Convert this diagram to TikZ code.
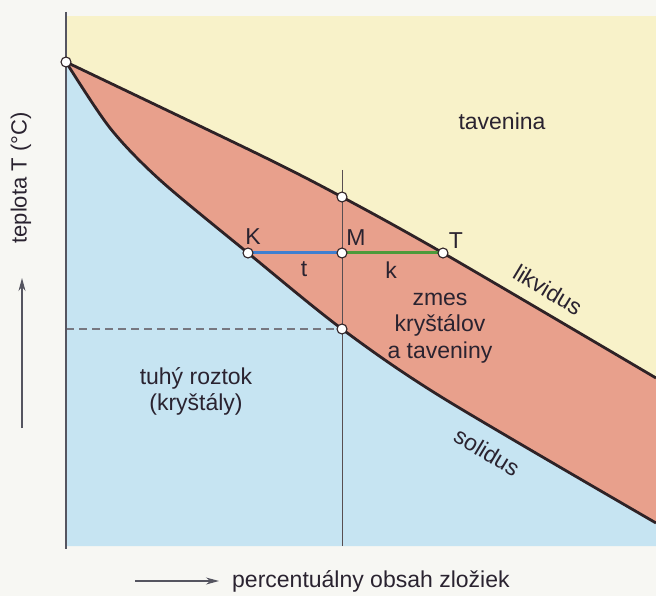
\documentclass[tikz,border=0pt]{standalone}
\usepackage{fontspec}
\setmainfont{Liberation Sans}
\usetikzlibrary{arrows.meta}
\definecolor{paper}{HTML}{F7F7F3}
\definecolor{meltc}{HTML}{F8F2C9}
\definecolor{mixc}{HTML}{E8A08C}
\definecolor{solidc}{HTML}{C6E4F2}
\definecolor{curvec}{HTML}{2E2226}
\definecolor{ink}{HTML}{2A2330}
\definecolor{axisc}{HTML}{555560}
\definecolor{tieblue}{HTML}{3F7FD0}
\definecolor{tiegreen}{HTML}{4D9A3A}
\tikzset{
  lbl/.style={text=ink,font=\fontsize{23}{26}\selectfont,inner sep=0pt},
  pt/.style={circle,draw=curvec,fill=white,line width=1.1pt,minimum size=10pt,inner sep=0pt},
  phase/.style={draw=curvec,line width=2.8pt,line join=round},
  thinline/.style={draw=curvec!80,line width=0.9pt},
  axarrow/.style={draw=axisc,line width=1.1pt,-{Stealth[length=13pt,width=7pt]}}
}
\begin{document}
\begin{tikzpicture}[x=1pt,y=-1pt]
\fill[paper] (0,0) rectangle (656,596);
\useasboundingbox (0,0) rectangle (656,596);
% key points
\coordinate (top) at (66,62);
\coordinate (L1) at (342,197);
\coordinate (Tp) at (443,253);
\coordinate (Kp) at (248,253);
\coordinate (Mp) at (342,253);
\coordinate (S1) at (342,329);
\coordinate (vtop) at (342,170);
\coordinate (vbot) at (342,546);
\coordinate (dl) at (66,329);
\coordinate (axtop) at (66,12);
\coordinate (axbot) at (66,549);
% regions
\fill[meltc] (66,16) rectangle (656,546);
\fill[mixc] plot[smooth] coordinates {(66,62) (260,155) (342,197) (443,253) (656,378)}
  -- plot[smooth] coordinates {(656,523) (443,398) (342,329) (248,253) (160,180) (110,128) (66,62)} -- cycle;
\fill[solidc] plot[smooth] coordinates {(66,62) (110,128) (160,180) (248,253) (342,329) (443,398) (656,523)}
  -- (656,546) -- (66,546) -- cycle;
% guides
\draw[draw=axisc!80,line width=1.1pt,dash pattern=on 8pt off 5pt] (dl) -- (S1);
\draw[thinline] (vtop) -- (vbot);
\draw[draw=axisc,line width=2pt] (axtop) -- (axbot);
% phase boundaries
\draw[phase] plot[smooth] coordinates {(66,62) (260,155) (342,197) (443,253) (656,378)};
\draw[phase] plot[smooth] coordinates {(66,62) (110,128) (160,180) (248,253) (342,329) (443,398) (656,523)};
% tie line
\draw[tieblue,line width=3pt] (Kp) -- (Mp);
\draw[tiegreen,line width=3pt] (Mp) -- (Tp);
% points
\node[pt] (nTop) at (top) {};
\node[pt] (nL1) at (L1) {};
\node[pt] (nT) at (Tp) {};
\node[pt] (nK) at (Kp) {};
\node[pt] (nM) at (Mp) {};
\node[pt] (nS1) at (S1) {};
% labels
\node[lbl] (tK) at (253,237) {K};
\node[lbl] (tM) at (356,238) {M};
\node[lbl] (tT) at (456,241) {T};
\node[lbl] (tt) at (304,269) {t};
\node[lbl] (tk) at (391,270) {k};
\node[lbl] (tav) at (502,121) {tavenina};
\node[lbl,align=center,font=\fontsize{23}{26.5}\selectfont] (zmes) at (440,328) {zmes\\kryštálov\\a taveniny};
\node[lbl,align=center,font=\fontsize{23}{26}\selectfont] (tuhy) at (196,391) {tuhý roztok\\(kryštály)};
\node[lbl,rotate=-31] (likv) at (548,290) {likvidus};
\node[lbl,rotate=-31] (sol) at (487,452) {solidus};
% axes labels
\node[lbl,rotate=90,font=\fontsize{22}{26}\selectfont] (ylab) at (21,178) {teplota T (°C)};
\coordinate (ya0) at (22,428);
\coordinate (ya1) at (22,278);
\draw[axarrow] (ya0) -- (ya1);
\coordinate (xa0) at (135,581);
\coordinate (xa1) at (219,581);
\draw[axarrow] (xa0) -- (xa1);
\node[lbl,anchor=west] (xlab) at (232,581) {percentuálny obsah zložiek};
\end{tikzpicture}
\end{document}
